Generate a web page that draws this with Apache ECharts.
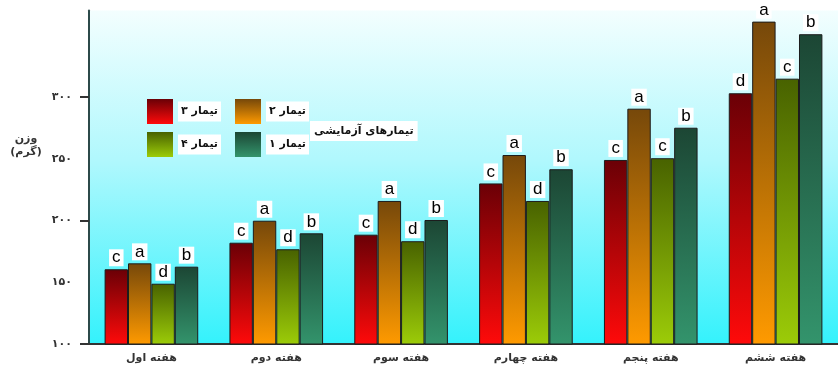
<!DOCTYPE html>
<html>
<head>
<meta charset="utf-8">
<title>وزن در تیمارهای آزمایشی</title>
<script src="https://cdn.jsdelivr.net/npm/echarts@6/dist/echarts.min.js"></script>
<style>
  html, body { margin: 0; padding: 0; background: #fff; }
  #chart { width: 838px; height: 373px; }
</style>
</head>
<body>
<div id="chart"></div>
<script>
// داده‌ها
var weeks = ['هفته اول', 'هفته دوم', 'هفته سوم', 'هفته چهارم', 'هفته پنجم', 'هفته ششم'];
var seriesNames = ['تیمار ۳', 'تیمار ۲', 'تیمار ۴', 'تیمار ۱'];
var t3 = [160.5, 182, 188.5, 230, 249, 303];
var t2 = [165.3, 199.8, 215.8, 253, 290.5, 361];
var t4 = [148.8, 176.7, 183.2, 215.8, 250.4, 314.8];
var t1 = [162.6, 189.6, 200.4, 241.5, 275.1, 350.8];
// حروف مقایسه میانگین
var letters3 = ['c', 'c', 'c', 'c', 'c', 'd'];
var letters2 = ['a', 'a', 'a', 'a', 'a', 'a'];
var letters4 = ['d', 'd', 'd', 'd', 'c', 'c'];
var letters1 = ['b', 'b', 'b', 'b', 'b', 'b'];
var yTickValues = [100, 150, 200, 250, 300];
var yTickLabels = ['۱۰۰', '۱۵۰', '۲۰۰', '۲۵۰', '۳۰۰'];

var faFont = '"DejaVu Sans", "Noto Sans", sans-serif';

function grad(top, bottom) {
  return new echarts.graphic.LinearGradient(0, 0, 0, 1, [
    { offset: 0, color: top },
    { offset: 1, color: bottom }
  ]);
}

var colors = [
  grad('#6a0006', '#ff0a0a'),
  grad('#76480a', '#ff9a00'),
  grad('#486200', '#9ccc08'),
  grad('#1c4634', '#33946c')
];
var values = [t3, t2, t4, t1];
var letters = [letters3, letters2, letters4, letters1];

var chart = echarts.init(document.getElementById('chart'));

var series = seriesNames.map(function (name, i) {
  return {
    name: name,
    type: 'bar',
    data: values[i],
    barGap: '0%',
    barCategoryGap: '25%',
    itemStyle: {
      color: colors[i],
      borderColor: '#1c1c1c',
      borderWidth: 1
    },
    label: {
      show: true,
      position: 'top',
      distance: 3,
      formatter: function (p) { return letters[i][p.dataIndex]; },
      color: '#000',
      fontSize: 17,
      fontFamily: '"Liberation Sans", Arial, sans-serif',
      backgroundColor: '#fff',
      padding: [0, 3, 0, 3],
      lineHeight: 17
    }
  };
});

// لژاندها، هر کدام یک مورد
var legendPos = [
  { left: 142, top: 94 },
  { left: 230, top: 94 },
  { left: 142, top: 127 },
  { left: 230, top: 127 }
];
var legends = seriesNames.map(function (name, i) {
  return {
    data: [name],
    left: legendPos[i].left,
    top: legendPos[i].top,
    orient: 'horizontal',
    selectedMode: false,
    icon: 'rect',
    itemWidth: 26,
    itemHeight: 25,
    itemStyle: { borderWidth: 0 },
    textStyle: {
      fontFamily: faFont,
      fontSize: 11,
      fontWeight: 'bold',
      color: '#111',
      backgroundColor: '#fff',
      padding: [5, 3, 4, 3]
    }
  };
});

var option = {
  animation: false,
  grid: {
    left: 89,
    top: 10.5,
    width: 772,
    bottom: 29,
    show: true,
    borderWidth: 0,
    backgroundColor: new echarts.graphic.LinearGradient(0, 0, 0, 1, [
      { offset: 0, color: '#f3fefe' },
      { offset: 0.45, color: '#b0f8fd' },
      { offset: 1, color: '#34f2fc' }
    ])
  },
  legend: legends,
  xAxis: {
    type: 'category',
    data: weeks,
    axisLine: { lineStyle: { color: '#333', width: 2 } },
    axisTick: { alignWithLabel: true, length: 5, lineStyle: { color: '#333' } },
    axisLabel: {
      margin: 9,
      fontFamily: faFont,
      fontSize: 11,
      fontWeight: 'bold',
      color: '#333'
    }
  },
  yAxis: {
    type: 'value',
    min: 100,
    max: 370,
    splitLine: { show: false },
    axisLine: { show: true, lineStyle: { color: '#2c4a4a', width: 2 } },
    axisTick: {
      show: true,
      length: 9,
      customValues: [100, 200, 300],
      lineStyle: { color: '#333', width: 2 }
    },
    axisLabel: {
      margin: 17,
      customValues: yTickValues,
      formatter: function (v) {
        var k = yTickValues.indexOf(v);
        return k >= 0 ? yTickLabels[k] : '';
      },
      fontFamily: faFont,
      fontSize: 11,
      fontWeight: 'bold',
      color: '#333'
    }
  },
  graphic: [
    {
      type: 'text',
      left: 310,
      top: 121,
      style: {
        text: 'تیمارهای آزمایشی',
        fontFamily: faFont,
        fontSize: 11,
        fontWeight: 'bold',
        fill: '#111',
        backgroundColor: '#fff',
        padding: [5, 4, 4, 4]
      }
    },
    {
      type: 'text',
      x: 26,
      y: 133,
      style: {
        text: 'وزن\n(گرم)',
        align: 'center',
        fontFamily: faFont,
        fontSize: 11,
        fontWeight: 'bold',
        lineHeight: 13,
        fill: '#333'
      }
    }
  ],
  series: series
};

chart.setOption(option);
</script>
</body>
</html>
